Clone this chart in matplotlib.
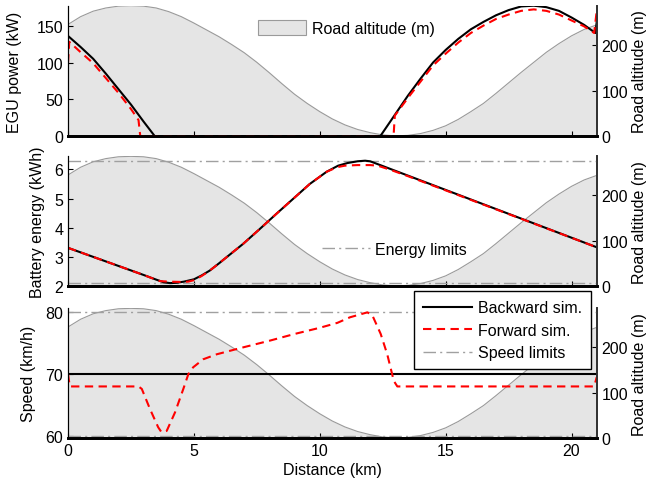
import matplotlib
matplotlib.use("Agg")
import matplotlib.pyplot as plt
from matplotlib.patches import Patch
from matplotlib.lines import Line2D

plt.rcParams['font.family'] = ['Liberation Sans', 'DejaVu Sans']
plt.rcParams['font.size'] = 11.5

# ---- Road altitude (m) vs distance (km)
alt_km = [0, 0.5, 1, 1.5, 2, 2.5, 3, 3.5, 4, 4.5, 5, 5.5, 6, 6.5, 7, 7.5, 8, 8.5, 9, 9.5,
          10, 10.5, 11, 11.5, 12, 12.5, 13, 13.5, 14, 14.5, 15, 15.5, 16, 16.5, 17, 17.5,
          18, 18.5, 19, 19.5, 20, 20.5, 21]
alt_m = [245, 262, 274, 281, 285, 286, 285, 281, 273, 262, 248, 233, 218, 201, 183, 162,
         139, 115, 92, 72, 54, 38, 25, 15, 8, 3, 1, 2, 6, 13, 23, 37, 54, 72, 94, 117,
         140, 162, 184, 203, 220, 234, 244]

# ---- EGU power (kW)
pow_bw_km = [0, 0.5, 1, 1.5, 2, 2.5, 3, 3.45, 12.4, 13, 13.5, 14, 14.5, 15, 15.5, 16, 16.5,
             17, 17.5, 18, 18.5, 19, 19.5, 20, 20.5, 20.95, 21]
pow_bw = [136, 121, 105, 85, 64, 43, 20, 0, 0, 30, 55, 78, 100, 117, 132, 145, 155,
          164, 171, 176, 177, 175, 170, 161, 151, 140, 155]
pow_fw_km = [0, 0.05, 0.5, 1, 1.5, 2, 2.5, 2.8, 2.87, 12.93, 12.98, 13.5, 14, 14.5, 15, 15.5,
             16, 16.5, 17, 17.5, 18, 18.5, 19, 19.5, 20, 20.5, 20.9, 21]
pow_fw = [100, 128, 114, 99, 79, 59, 37, 22, 0, 0, 28, 52, 74, 96, 112, 127,
          140, 150, 159, 165, 170, 172, 170, 165, 157, 149, 140, 170]

# ---- Battery energy (kWh)
en_bw_km = [0, 1, 2, 3, 3.5, 3.8, 4.05, 4.3, 4.6, 5.0, 5.3, 5.63, 6.0, 6.3, 6.96, 7.62,
            8.28, 8.94, 9.6, 10.27, 10.73, 11.1, 11.5, 11.8, 12.0, 12.4, 21]
en_bw = [3.31, 3.0, 2.69, 2.38, 2.22, 2.13, 2.10, 2.11, 2.15, 2.23, 2.36, 2.53, 2.78, 2.99,
         3.45, 3.96, 4.48, 4.99, 5.50, 5.92, 6.13, 6.22, 6.28, 6.30, 6.28, 6.15, 3.33]
en_fw_km = [0, 1, 2, 3, 3.3, 3.5, 3.65, 4.0, 4.5, 4.77, 5.0, 5.3, 5.63, 6.0, 6.3, 6.96, 7.62,
            8.28, 8.94, 9.6, 10.27, 10.7, 11.0, 11.5, 12.0, 12.3, 12.8, 13.5, 21]
en_fw = [3.31, 3.0, 2.69, 2.38, 2.28, 2.22, 2.17, 2.15, 2.14, 2.15, 2.20, 2.34, 2.53, 2.78,
         2.99, 3.45, 3.96, 4.48, 4.99, 5.50, 5.92, 6.08, 6.13, 6.15, 6.15, 6.13, 5.99, 5.77, 3.33]
energy_limits = [2.1, 6.3]

# ---- Speed (km/h)
spd_bw_km = [0, 21]
spd_bw = [70, 70]
spd_fw_km = [0, 0.07, 2.8, 2.93, 3.26, 3.58, 3.71, 3.92, 4.25, 4.58, 4.78, 4.97, 5.37, 5.9,
             6.83, 8, 9, 10, 10.7, 11.2, 11.89, 12.09, 12.42, 12.68, 12.94, 13.08, 20.9, 21]
spd_fw = [70, 68, 68, 67.6, 64.3, 61.4, 60.6, 60.8, 63.8, 67.6, 70, 71.1, 72.4, 73.2,
          74.2, 75.4, 76.5, 77.5, 78.3, 79.2, 80.0, 79.5, 76.5, 73.2, 68.9, 68.0, 68.0, 69.5]
speed_limits = [60, 80]

dist_ticks = [0, 5, 10, 15, 20]

FILL = '#e5e5e5'
ALTLINE = '#9a9a9a'
LIMC = '#a0a0a0'
LIMLS = (0, (9, 3, 1.5, 3))
REDLS = (0, (4, 2.6))

fig = plt.figure(figsize=(6.65, 4.85), dpi=100)
L, W = 0.1023, 0.795
rects = [(L, 0.7169, W, 0.2693), (L, 0.4076, W, 0.268), (L, 0.0942, W, 0.268)]
axes = []
for r in rects:
    ax = fig.add_axes(r)
    ax2 = ax.twinx()
    ax2.fill_between(alt_km, alt_m, 0, color=FILL, lw=0)
    ax2.plot(alt_km, alt_m, color=ALTLINE, lw=0.8)
    ax2.set_ylim(0, 286)
    ax2.set_yticks([0, 100, 200])
    ax2.set_ylabel('Road altitude (m)')
    ax2.yaxis.set_label_coords(1.066, 0.5)
    ax.set_zorder(ax2.get_zorder() + 1)
    ax.patch.set_visible(False)
    ax.set_xlim(0, 21)
    ax.set_xticks(dist_ticks)
    for a in (ax, ax2):
        a.spines['top'].set_visible(False)
        a.tick_params(direction='in', length=3.5, width=0.8, labelsize=11.5)
        a.spines['bottom'].set_linewidth(2.0)
        a.spines['left'].set_linewidth(0.8)
        a.spines['right'].set_linewidth(1.3)
        a.spines['right'].set_color('#333333')
    axes.append((ax, ax2))

# Top panel
ax, ax2 = axes[0]
ax.plot(pow_bw_km, pow_bw, color='black', lw=1.5)
ax.plot(pow_fw_km, pow_fw, color='red', lw=1.5, linestyle=REDLS)
ax.set_ylim(0, 177)
ax.set_yticks([0, 50, 100, 150])
ax.set_xticklabels([])
ax.set_ylabel('EGU power (kW)')
ax.yaxis.set_label_coords(-0.087, 0.5)
ax.legend(handles=[Patch(facecolor=FILL, edgecolor='#9a9a9a', lw=0.8)],
          labels=['Road altitude (m)'], loc='center left', bbox_to_anchor=(0.359, 0.829),
          frameon=False, borderpad=0, borderaxespad=0, handlelength=3.0, handleheight=1.0,
          handletextpad=0.4, fontsize=11.5)

# Middle panel
ax, ax2 = axes[1]
for v in energy_limits:
    ax.axhline(v, color=LIMC, lw=1.0, linestyle=LIMLS)
ax.plot(en_bw_km, en_bw, color='black', lw=1.5)
ax.plot(en_fw_km, en_fw, color='red', lw=1.5, linestyle=REDLS)
ax.set_ylim(1.99, 6.45)
ax.set_yticks([2, 3, 4, 5, 6])
ax.set_xticklabels([])
ax.set_ylabel('Battery energy (kWh)')
ax.yaxis.set_label_coords(-0.0435, 0.5)
ax.legend(handles=[Line2D([], [], color=LIMC, lw=1.0, linestyle=LIMLS)],
          labels=['Energy limits'], loc='center left', bbox_to_anchor=(0.48, 0.287),
          frameon=False, borderpad=0, borderaxespad=0, handlelength=3.0,
          handletextpad=0.35, fontsize=11.5)

# Bottom panel
ax, ax2 = axes[2]
for v in speed_limits:
    ax.axhline(v, color=LIMC, lw=1.0, linestyle=LIMLS)
h1, = ax.plot(spd_bw_km, spd_bw, color='black', lw=1.5)
h2, = ax.plot(spd_fw_km, spd_fw, color='red', lw=1.5, linestyle=REDLS)
h3 = Line2D([], [], color=LIMC, lw=1.0, linestyle=LIMLS)
ax.set_ylim(59.6, 80.65)
ax.set_yticks([60, 70, 80])
ax.set_xlabel('Distance (km)', labelpad=3)
ax.set_ylabel('Speed (km/h)')
ax.yaxis.set_label_coords(-0.0605, 0.5)
leg = ax.legend(handles=[h1, h2, h3], labels=['Backward sim.', 'Forward sim.', 'Speed limits'],
                loc='upper right', bbox_to_anchor=(0.9886, 1.131), borderaxespad=0,
                fancybox=False, framealpha=1, edgecolor='black', handlelength=3.1,
                handletextpad=0.35, labelspacing=0.48, borderpad=0.55, fontsize=11.5)
leg.get_frame().set_linewidth(1.0)

fig.savefig('out.png', dpi=100)
